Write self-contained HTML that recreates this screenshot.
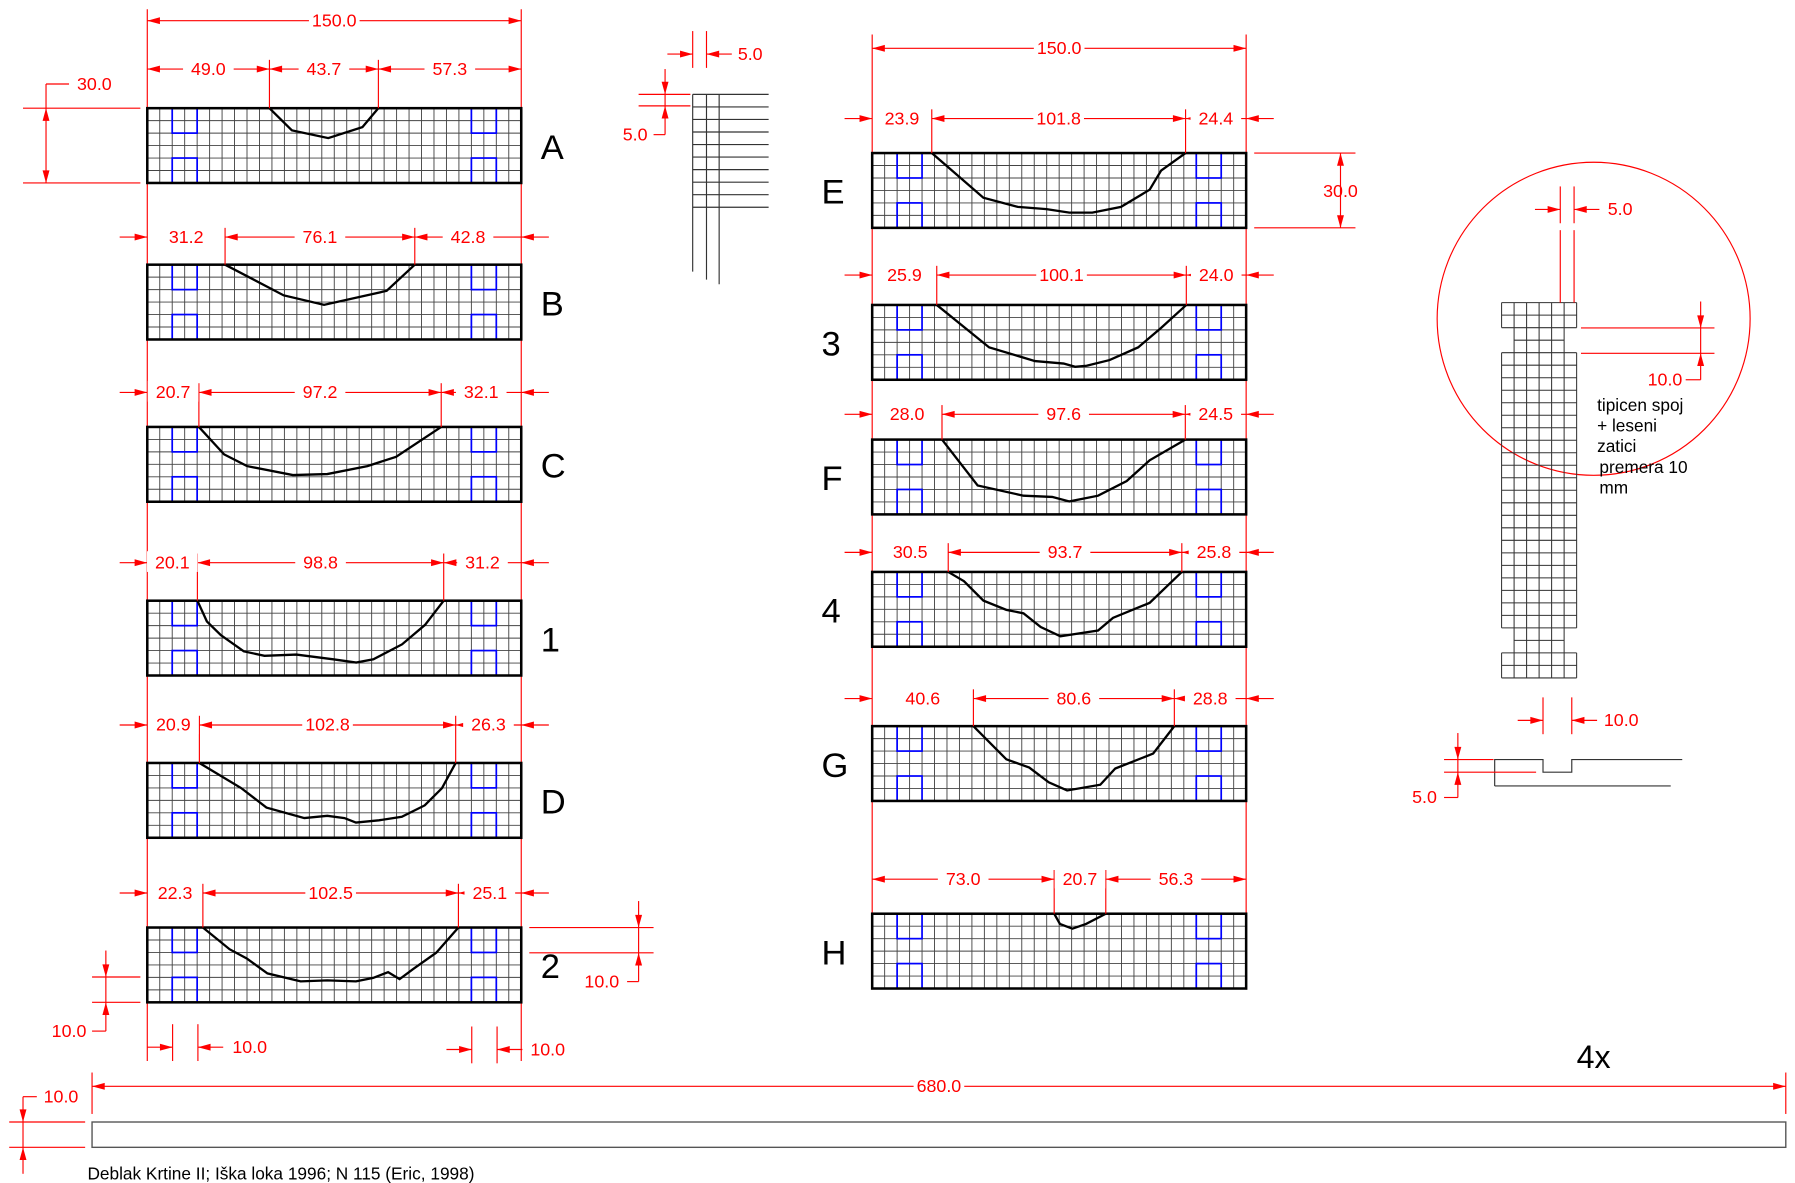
<!DOCTYPE html>
<html><head><meta charset="utf-8"><style>
html,body{margin:0;padding:0;background:#fff}
svg{display:block}
text{font-family:"Liberation Sans",Arial,sans-serif}
.r{fill:#f00;font-size:15.5px;text-anchor:middle}
</style></head><body>
<svg id="s" width="1795" height="1183" viewBox="0 0 1560 1028" preserveAspectRatio="none" xmlns="http://www.w3.org/2000/svg">
<g id="g"></g>
</svg>
<script>
// Beam data (units): name, column, top y, dims [left, notch, right], profile [x, depth]
const beamNames = ["A","B","C","1","D","2","E","3","F","4","G","H"];
const beamCol = [0,0,0,0,0,0,1,1,1,1,1,1];
const beamTop = [94,230,371,522,663,806,133,265,382,497,631,794];
const dimRowY = [60,206,341,489,630,776,103,239,360,480,607,764];
const dimValues = [[49.0,43.7,57.3],[31.2,76.1,42.8],[20.7,97.2,32.1],[20.1,98.8,31.2],[20.9,102.8,26.3],[22.3,102.5,25.1],[23.9,101.8,24.4],[25.9,100.1,24.0],[28.0,97.6,24.5],[30.5,93.7,25.8],[40.6,80.6,28.8],[73.0,20.7,56.3]];
const profiles = [
 [[49,0],[58,8.9],[72.6,12],[86.3,7.6],[92.7,0]],
 [[31.2,0],[54.7,12.3],[70.9,16.1],[96,10.5],[107.3,0]],
 [[20.7,0],[30.8,11],[40,15.7],[58.4,19.3],[72.2,18.9],[88.3,15.7],[99.8,12],[117.9,0]],
 [[20.1,0],[23.9,8.3],[29.5,13.8],[38.7,20.3],[47,22.1],[59.8,21.6],[74.6,23.5],[83.8,24.8],[90.7,23.5],[102.2,17.5],[111.4,9.7],[118.9,0]],
 [[20.9,0],[37.7,10.1],[47.8,17.9],[63,22.1],[72.2,21.2],[79.1,22.1],[83.7,23.9],[92.9,23],[102.1,21.6],[111.3,17],[118.2,10.1],[123.7,0]],
 [[22.3,0],[33,8.7],[39.9,12.4],[48.2,18.4],[61.5,21.6],[72.2,21.2],[83.7,21.6],[90.6,20.2],[96.6,17.9],[101.2,20.7],[106.7,16.6],[115.9,10.1],[124.8,0]],
 [[23.9,0],[44.6,17.9],[58.4,21.6],[69.9,22.5],[79.1,23.9],[88.3,23.9],[99.8,21.6],[111.3,14.7],[115.9,7],[125.7,0]],
 [[25.9,0],[46.9,17],[65.3,22.5],[76.8,23.5],[81.4,24.8],[86,24.4],[95.2,22.1],[106.7,17],[115.9,9.2],[126,0]],
 [[28,0],[42.3,18.4],[60.7,22.5],[72.2,23],[79.1,24.8],[90.6,22.5],[102.1,16.6],[111.3,8.3],[125.6,0]],
 [[30.5,0],[36.8,3.7],[44.6,11.5],[53.8,15.2],[60.7,16.6],[67.6,22.1],[75.5,25.8],[90.6,23.5],[96.6,18.4],[111.3,12.4],[124.2,0]],
 [[40.6,0],[53.8,13.3],[63,16.6],[70.8,22.5],[78.2,25.8],[91.5,23.5],[97.5,17],[112.7,11],[121.2,0]],
 [[73,0],[75.3,4.1],[80.3,6],[85.8,4.1],[93.7,0]]
];
const colX = [128,758];
const U = 325/150;
const NS="http://www.w3.org/2000/svg";
const g=document.getElementById('g');
function el(t,a,p){const e=document.createElementNS(NS,t);for(const k in a)e.setAttribute(k,a[k]);(p||g).appendChild(e);return e;}
function line(x1,y1,x2,y2,c,w,p){return el('line',{x1,y1,x2,y2,stroke:c,'stroke-width':w||1},p);}
function arrow(x,y,dir,p){
 let pts;
 if(dir===1)pts=[[x,y],[x-11,y-3],[x-11,y+3]];
 else if(dir===-1)pts=[[x,y],[x+11,y-3],[x+11,y+3]];
 else if(dir===2)pts=[[x,y],[x-3,y-11],[x+3,y-11]];
 else pts=[[x,y],[x-3,y+11],[x+3,y+11]];
 el('polygon',{points:pts.map(q=>q.join(',')).join(' '),fill:'#f00'},p);
}
function label(x,y,t,p,anchor){const e=el('text',{x,y,class:'r'},p);if(anchor)e.setAttribute('text-anchor',anchor);e.textContent=t;return e;}
function gapText(x,y,t,p){el('rect',{x:x-22,y:y-10,width:44,height:18,fill:'#fff'},p);label(x,y+5,t,p);}

line(128,8,128,922,'#f00',1);line(453,8,453,922,'#f00',1);
line(758,30,758,860,'#f00',1);line(1083,30,1083,860,'#f00',1);
[[128,453,18],[758,1083,42]].forEach(([a,b,y],i)=>{
 const d=el('g',{});
 line(a,y,b,y,'#f00',1,d);arrow(a,y,-1,d);arrow(b,y,1,d);gapText((a+b)/2,y,'150.0',d);
});

beamNames.forEach((n,i)=>{
 const x0=colX[beamCol[i]], top=beamTop[i];
 const b=el('g',{});
 
 
 let gp='';
 for(let k=1;k<30;k++){const x=x0+k*5*U;gp+=`M${x},${top}V${top+65}`;}
 for(let k=1;k<6;k++){const y=top+k*5*U;gp+=`M${x0},${y}H${x0+325}`;}
 el('path',{d:gp,stroke:'#444','stroke-width':0.8,fill:'none'},b);
 [[10,0],[130,0],[10,20],[130,20]].forEach(([ux,uy])=>el('rect',{x:x0+ux*U,y:top+uy*U,width:10*U,height:10*U,fill:'none',stroke:'#00f','stroke-width':1.5},b));
 el('rect',{x:x0,y:top,width:325,height:65,fill:'none',stroke:'#000','stroke-width':2.2},b);
 el('polyline',{points:profiles[i].map(([u,d])=>(x0+u*U)+','+(top+d*U)).join(' '),fill:'none',stroke:'#000','stroke-width':2},b);
 const lx = beamCol[i]===0 ? x0+342 : x0-44;
 const lt=el('text',{x:lx,y:top+44,'font-size':30,fill:'#000'},b);lt.textContent=n;
 const dv=dimValues[i], y=dimRowY[i];
 const a=x0+dv[0]*U, c=a+dv[1]*U, e=x0+325;
 const dm=el('g',{});
 
 
 if(i===0||i===11){line(x0,y,e,y,'#f00',1,dm);arrow(x0,y,-1,dm);arrow(a,y,1,dm);arrow(a,y,-1,dm);arrow(c,y,1,dm);arrow(c,y,-1,dm);arrow(e,y,1,dm);}
 else{line(x0-24,y,x0,y,'#f00',1,dm);arrow(x0,y,1,dm);line(a,y,e+24,y,'#f00',1,dm);arrow(a,y,-1,dm);arrow(c,y,1,dm);arrow(c,y,-1,dm);arrow(e,y,-1,dm);}
 line(a,y-8,a,top,'#f00',1,dm);line(c,y-8,c,top,'#f00',1,dm);
 gapText((x0+a)/2,y,dv[0].toFixed(1),dm);gapText((a+c)/2,y,dv[1].toFixed(1),dm);gapText((c+e)/2,y,dv[2].toFixed(1),dm);
});

function vdim(x,y1,y2,lx1,lx2,name){const d=el('g',{});
 line(lx1,y1,lx2,y1,'#f00',1,d);line(lx1,y2,lx2,y2,'#f00',1,d);return d;}
let d=vdim(40,94,159,20,122,'height-dim-a');line(40,73,40,159,'#f00',1,d);arrow(40,94,-2,d);arrow(40,159,2,d);line(40,73,60,73,'#f00',1,d);label(82,78,'30.0',d);
d=vdim(1165,133,198,1090,1178,'height-dim-e');line(1165,133,1165,198,'#f00',1,d);arrow(1165,133,-2,d);arrow(1165,198,2,d);label(1165,171,'30.0',d);
d=vdim(92,849,871,80,122,'pin-dim-left');line(92,826,92,896,'#f00',1,d);arrow(92,849,2,d);arrow(92,871,-2,d);line(92,896,80,896,'#f00',1,d);label(60,901,'10.0',d);
d=vdim(555,806,828,460,568,'pin-dim-right');line(555,783,555,853,'#f00',1,d);arrow(555,806,2,d);arrow(555,828,-2,d);line(555,853,545,853,'#f00',1,d);label(523,858,'10.0',d);
function hdim(x1,x2,y,lab,lx,name){const d=el('g',{});
 line(x1-22,y,x1,y,'#f00',1,d);arrow(x1,y,1,d);line(x2,y,x2+22,y,'#f00',1,d);arrow(x2,y,-1,d);line(x1,y-20,x1,y+12,'#f00',1,d);line(x2,y-20,x2,y+12,'#f00',1,d);label(lx,y+5,lab,d);return d;}
hdim(150,172,910,'10.0',217,'pin-width-left');hdim(410,432,912,'10.0',476,'pin-width-right');
hdim(602,614,47,'5.0',652,'detail-width-dim');
d=vdim(578,82,92,555,600,'detail-height-dim');line(578,60,578,117,'#f00',1,d);arrow(578,82,2,d);arrow(578,92,-2,d);line(578,117,568,117,'#f00',1,d);label(552,122,'5.0',d);
hdim(1356,1368,182,'5.0',1408,'joint-width-dim');
hdim(1341,1366,626,'10.0',1409,'slot-width-dim');

d=el('g',{});
line(602,82,602,236,'#333',1,d);line(614,82,614,243,'#333',1,d);line(625,82,625,247,'#333',1,d);
for(let k=0;k<10;k++)line(602,82+k*10.9,668,82+k*10.9,'#333',1,d);

d=el('g',{});
el('ellipse',{cx:1385,cy:277,rx:136,ry:136,fill:'none',stroke:'#f00','stroke-width':1},d);
const c0=1305,cw=10.87,ct=263;
let cp='';
const rowsW=[];for(let r=0;r<30;r++)rowsW.push((r<2||r>=28)?[0,6]:((r<4||r>=26)?[1,5]:[0,6]));
rowsW.forEach(([a,b],r)=>{const y=ct+r*cw;cp+=`M${c0+a*cw},${y}H${c0+b*cw}M${c0+a*cw},${y+cw}H${c0+b*cw}`;for(let k=a;k<=b;k++)cp+=`M${c0+k*cw},${y}V${y+cw}`;});
el('path',{d:cp,stroke:'#333','stroke-width':0.9,fill:'none'},d);
line(1356,200,1356,263,'#f00',1,d);line(1368,200,1368,263,'#f00',1,d);
line(1374,285,1490,285,'#f00',1,d);line(1374,307,1490,307,'#f00',1,d);line(1478,262,1478,330,'#f00',1,d);arrow(1478,285,2,d);arrow(1478,307,-2,d);line(1478,330,1465,330,'#f00',1,d);
label(1447,335,'10.0',d);
['tipicen spoj','+ leseni','zatici','premera 10','mm'].forEach((t,k)=>{const e=el('text',{x:1388+(k>2?2:0),y:357+k*18,'font-size':15,fill:'#000'},d);e.textContent=t;});

d=el('g',{});
el('polyline',{points:'1299,683 1299,660 1341,660 1341,671 1366,671 1366,660 1462,660',fill:'none',stroke:'#333','stroke-width':1},d);
line(1299,683,1452,683,'#333',1,d);
line(1255,660,1298,660,'#f00',1,d);line(1255,671,1335,671,'#f00',1,d);line(1267,637,1267,693,'#f00',1,d);arrow(1267,660,2,d);arrow(1267,671,-2,d);line(1267,693,1255,693,'#f00',1,d);label(1238,698,'5.0',d);

d=el('g',{});
el('rect',{x:80,y:975,width:1472,height:22,fill:'none',stroke:'#555','stroke-width':1.2},d);
d=el('g',{});
line(80,944,1552,944,'#f00',1,d);arrow(80,944,-1,d);arrow(1552,944,1,d);
line(80,932,80,968,'#f00',1,d);line(1552,932,1552,968,'#f00',1,d);gapText(816,944,'680.0',d);
d=vdim(20,975,997,8,74,'long-bar-height-dim');line(20,953,20,1020,'#f00',1,d);arrow(20,975,2,d);arrow(20,997,-2,d);line(20,953,32,953,'#f00',1,d);label(53,958,'10.0',d);
let t=el('text',{x:1385,y:928,'font-size':28,fill:'#000','text-anchor':'middle'});t.textContent='4x';
t=el('text',{x:76,y:1025,'font-size':15,fill:'#000'});t.textContent='Deblak Krtine II; Iška loka 1996; N 115 (Eric, 1998)';
</script>
</body></html>
